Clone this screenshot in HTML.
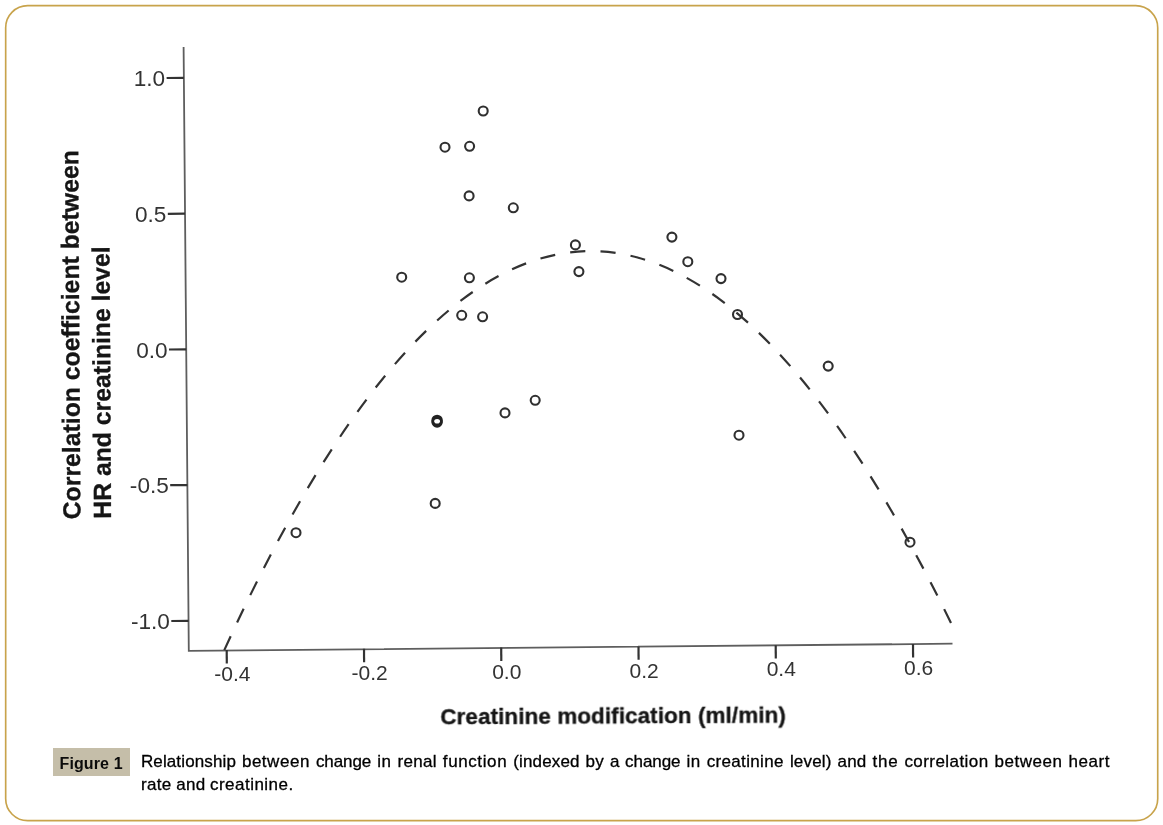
<!DOCTYPE html>
<html lang="en">
<head>
<meta charset="utf-8">
<title>Figure 1</title>
<style>
html,body{margin:0;padding:0;background:#fff;}
body{width:1163px;height:825px;position:relative;overflow:hidden;font-family:"Liberation Sans",Arial,sans-serif;}
#chart{position:absolute;left:0;top:0;}
.badge{position:absolute;left:53px;top:748px;width:77px;height:28px;background:#c5bea9;color:#0b0b0b;font-weight:bold;font-size:16px;line-height:20px;text-align:center;}
.badge span{position:absolute;left:-0.4px;width:77px;top:5.7px;letter-spacing:0.12px;}
.cap{position:absolute;left:0;top:0;font-size:17px;line-height:20px;color:#000;margin:0;-webkit-text-stroke:0.3px #000;}
.w{position:absolute;white-space:pre;}
.l1{top:752.4px;}
.l2{top:775.4px;}
</style>
</head>
<body>
<svg id="chart" width="1163" height="825" viewBox="0 0 1163 825">
<rect x="5.68" y="5.68" width="1152.04" height="815" rx="22" ry="22" fill="none" stroke="#c8a34b" stroke-width="1.65"/>
<g style="filter:blur(0.4px)">
<g fill="none" stroke="#5e5e5e" stroke-width="1.8">
<path d="M183.6 47 L188.8 650.9 L952.5 643.7"/>
</g>
<g fill="none" stroke="#333" stroke-width="2.2">
<path d="M166.6 78.0 L183.8 77.8"/>
<path d="M167.8 213.8 L185.0 213.6"/>
<path d="M169.0 349.5 L186.2 349.4"/>
<path d="M170.2 485.2 L187.4 485.1"/>
<path d="M171.3 621.0 L188.5 620.9"/>
<path d="M226.7 650.0 L226.8 663.4"/>
<path d="M364.0 648.8 L364.1 662.2"/>
<path d="M501.2 647.6 L501.3 661.0"/>
<path d="M638.5 646.4 L638.6 659.8"/>
<path d="M775.7 645.2 L775.8 658.6"/>
<path d="M913.0 644.0 L913.1 657.4"/>
</g>
<g font-family="'Liberation Sans', Arial, sans-serif" font-size="22.6" fill="#333" text-anchor="end">
<text x="165.2" y="86.1">1.0</text>
<text x="166.4" y="221.9">0.5</text>
<text x="167.6" y="357.7">0.0</text>
<text x="168.8" y="493.4">-0.5</text>
<text x="169.9" y="629.2">-1.0</text>
</g>
<g font-family="'Liberation Sans', Arial, sans-serif" font-size="21" fill="#333" text-anchor="middle">
<text x="232.3" y="681.2">-0.4</text>
<text x="369.6" y="680.0">-0.2</text>
<text x="506.8" y="678.8">0.0</text>
<text x="644.1" y="677.6">0.2</text>
<text x="781.3" y="676.4">0.4</text>
<text x="918.6" y="675.2">0.6</text>
</g>
<path d="M224.3 650.1 C466.7 117.6 709.1 127.4 951.5 624.0" fill="none" stroke="#333" stroke-width="2.2" stroke-dasharray="15.2 15.17"/>
<g fill="none" stroke="#303030" stroke-width="2.1">
<circle cx="483.2" cy="111.0" r="4.5"/>
<circle cx="445.0" cy="147.2" r="4.5"/>
<circle cx="469.6" cy="146.3" r="4.5"/>
<circle cx="469.1" cy="195.9" r="4.5"/>
<circle cx="513.3" cy="207.8" r="4.5"/>
<circle cx="575.4" cy="244.9" r="4.5"/>
<circle cx="401.7" cy="277.2" r="4.5"/>
<circle cx="469.4" cy="277.8" r="4.5"/>
<circle cx="578.9" cy="271.6" r="4.5"/>
<circle cx="461.7" cy="315.3" r="4.5"/>
<circle cx="482.6" cy="316.8" r="4.5"/>
<circle cx="435.2" cy="503.4" r="4.5"/>
<circle cx="296.0" cy="532.7" r="4.5"/>
<circle cx="671.9" cy="237.1" r="4.5"/>
<circle cx="687.8" cy="261.7" r="4.5"/>
<circle cx="721.0" cy="278.6" r="4.5"/>
<circle cx="737.5" cy="314.5" r="4.5"/>
<circle cx="828.2" cy="366.1" r="4.5"/>
<circle cx="739.0" cy="435.2" r="4.5"/>
<circle cx="910.0" cy="542.2" r="4.5"/>
<circle cx="505.0" cy="412.9" r="4.5"/>
<circle cx="535.2" cy="400.3" r="4.5"/>
</g>
<g fill="none" stroke="#222" stroke-width="2.6">
<circle cx="437.1" cy="420.4" r="4.4"/>
<circle cx="437.1" cy="422.0" r="4.4"/>
</g>
<g font-family="'Liberation Sans', Arial, sans-serif" font-weight="bold" fill="#151515" stroke="#151515" stroke-width="0.35">
<text font-size="24.8" textLength="369.2" lengthAdjust="spacing" transform="translate(80.4 519.3) rotate(-90.35)">Correlation coefficient between</text>
<text font-size="24.8" textLength="272.4" lengthAdjust="spacing" transform="translate(111.1 518.7) rotate(-90.35)">HR and creatinine level</text>
<text font-size="22.4" textLength="345.5" lengthAdjust="spacing" transform="translate(440.4 724.3) rotate(-0.3)">Creatinine modification (ml/min)</text>
</g>
</g>
</svg>
<div class="badge"><span>Figure 1</span></div>
<p class="cap">
<span class="w l1" style="left:140.9px;letter-spacing:0.13px">Relationship </span>
<span class="w l1" style="left:241.9px;letter-spacing:0.53px">between </span>
<span class="w l1" style="left:315.9px;letter-spacing:-0.07px">change </span>
<span class="w l1" style="left:377.2px;letter-spacing:0.55px">in </span>
<span class="w l1" style="left:397.6px;letter-spacing:0.29px">renal </span>
<span class="w l1" style="left:442.8px;letter-spacing:0.61px">function </span>
<span class="w l1" style="left:513.2px;letter-spacing:0.15px">(indexed </span>
<span class="w l1" style="left:585.6px;letter-spacing:0.27px">by </span>
<span class="w l1" style="left:610.0px;letter-spacing:-0.36px">a </span>
<span class="w l1" style="left:625.1px;letter-spacing:-0.07px">change </span>
<span class="w l1" style="left:686.4px;letter-spacing:0.55px">in </span>
<span class="w l1" style="left:706.7px;letter-spacing:0.34px">creatinine </span>
<span class="w l1" style="left:789.9px;letter-spacing:0.18px">level) </span>
<span class="w l1" style="left:837.5px;letter-spacing:0.23px">and </span>
<span class="w l1" style="left:872.6px;letter-spacing:0.72px">the </span>
<span class="w l1" style="left:904.4px;letter-spacing:0.44px">correlation </span>
<span class="w l1" style="left:994.6px;letter-spacing:0.53px">between </span>
<span class="w l1" style="left:1068.5px;letter-spacing:0.56px">heart </span>
<span class="w l2" style="left:140.9px;letter-spacing:0.37px">rate </span>
<span class="w l2" style="left:176.3px;letter-spacing:0.33px">and </span>
<span class="w l2" style="left:209.9px;letter-spacing:0.49px">creatinine. </span>
</p>
</body>
</html>
